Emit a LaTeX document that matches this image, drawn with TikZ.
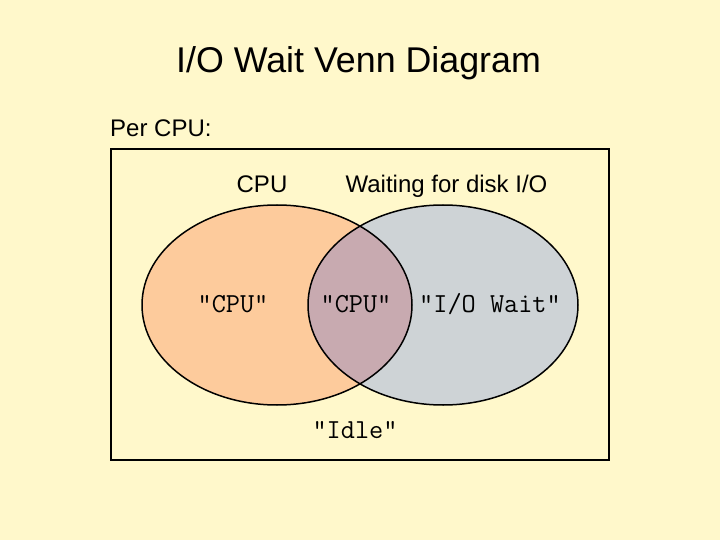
\documentclass[tikz,border=0pt]{standalone}
\usepackage{fontspec}
\setmainfont{Liberation Sans}
\usetikzlibrary{positioning}

\definecolor{slidebg}{HTML}{FFF8CB}
\definecolor{cpufill}{HTML}{FDCB9C}
\definecolor{iofill}{HTML}{CED3D6}
\definecolor{bothfill}{HTML}{C8AAB0}

\begin{document}
\begin{tikzpicture}[x=1pt,y=-1pt,
  lbl/.style={font=\fontsize{24}{28}\selectfont, inner sep=0pt, anchor=base},
  quoted/.style={font=\fontsize{27.5}{32}\selectfont\ttfamily, inner sep=0pt, anchor=base},
  oval/.style={x radius=135pt, y radius=100pt}]
  % Slide background
  \fill[slidebg] (0,0) rectangle (720,540);
  \useasboundingbox (0,0) rectangle (720,540);
  % Title
  \node[lbl, font=\fontsize{35.8}{42}\selectfont] (title) at (358.5,73) {I/O Wait Venn Diagram};
  % Per CPU box
  \node[lbl, anchor=base west] (percpu) at (110,137) {Per CPU:};
  \draw[line width=1.5pt] (111,149) rectangle (609,460);
  % Sets
  \coordinate (cpuc) at (277,305);
  \coordinate (ioc) at (443,305);
  \fill[cpufill] (cpuc) ellipse [oval];
  \fill[iofill] (ioc) ellipse [oval];
  \begin{scope}
    \clip (cpuc) ellipse [oval];
    \fill[bothfill] (ioc) ellipse [oval];
  \end{scope}
  \draw[line width=1.5pt] (cpuc) ellipse [oval];
  \draw[line width=1.5pt] (ioc) ellipse [oval];
  % Set names
  \node[lbl] (cpuname) at (262,193) {CPU};
  \node[lbl] (ioname) at (446.5,193) {Waiting for disk I/O};
  % States
  \node[quoted] (cpuonly) at (233,312) {"CPU"};
  \node[quoted] (cpuboth) at (356,312) {"CPU"};
  \node[quoted] (iowait) at (490,312) {"I/O Wait"};
  \node[quoted] (idle) at (355,438) {"Idle"};
\end{tikzpicture}
\end{document}
